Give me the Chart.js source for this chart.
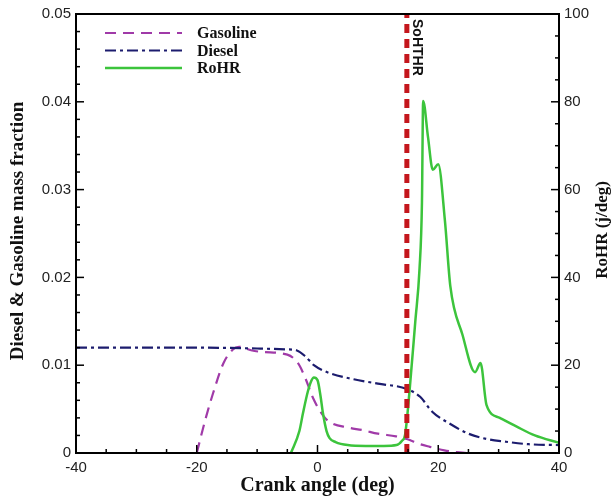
<!DOCTYPE html>
<html>
<head>
<meta charset="utf-8">
<script src="https://cdn.jsdelivr.net/npm/chart.js@4.4.0/dist/chart.umd.min.js"></script>
<style>
  body { margin: 0; background: #fff; }
  #box { width: 612px; height: 497px; }
</style>
</head>
<body>
<div id="box"><canvas id="chart"></canvas></div>
<script>
// values
const gasolineAngle = [-20, -18.5, -17.3, -15.6, -14, -13, -11, -9, -5, -3.2, -2, -0.7, 1, 2.1, 5, 7.5, 10, 13, 14.8, 17, 18.6, 21, 23, 25, 40];
const gasoline      = [0, 0.0040, 0.0068, 0.0102, 0.0118, 0.0121, 0.0117, 0.0115, 0.0112, 0.0102, 0.0085, 0.0062, 0.0042, 0.0035, 0.0029, 0.0026, 0.0022, 0.0019, 0.0016, 0.0010, 0.0007, 0.0003, 0.0001, 0, 0];

const dieselAngle = [-40, -30, -20, -10, -5, -3.5, -2, -0.6, 2, 6, 10, 14.8, 17, 19, 22, 25, 28, 31, 35, 40];
const diesel      = [0.0120, 0.0120, 0.0120, 0.0119, 0.0118, 0.0117, 0.0110, 0.0100, 0.0091, 0.0084, 0.0079, 0.0073, 0.0064, 0.0047, 0.0033, 0.0022, 0.0016, 0.0013, 0.0010, 0.0009];

const rohrAngle = [-4.4, -3, -2.4, -1.6, -1, -0.6, 0, 0.5, 0.9, 1.5, 2, 3, 5, 8, 11, 13.1, 14, 14.5, 15.3, 16.2, 16.9, 17.3, 17.5, 18.3, 19.1, 20, 21.1, 22, 24, 26.1, 27, 28, 30.2, 33, 36, 40];
const rohr      = [0, 5, 9.1, 14, 16.5, 17.2, 16.6, 13, 9.1, 5, 3.4, 2.5, 1.8, 1.6, 1.6, 1.8, 2.8, 4.1, 15, 30, 42, 57, 80.2, 72, 64.5, 65.8, 53, 38, 27, 18.4, 20.5, 10.9, 8, 6, 4, 2.3];

const sohthrAngle = 14.8;

function pts(xs, ys) {
  return xs.map((x, i) => ({ x: x, y: ys[i] }));
}

const tickFont = { family: 'Liberation Sans', size: 15 };

const decor = {
  id: 'decor',
  afterDatasetsDraw(chart) {
    const ctx = chart.ctx, a = chart.chartArea;
    const sx = chart.scales.x, sy = chart.scales.y, sy2 = chart.scales.y2;
    ctx.save();
    ctx.strokeStyle = '#000';
    ctx.lineWidth = 1.5;
    function seg(x1, y1, x2, y2) {
      ctx.beginPath(); ctx.moveTo(x1, y1); ctx.lineTo(x2, y2); ctx.stroke();
    }
    // inward ticks
    for (let i = 0; i <= 16; i++) {
      const px = sx.getPixelForValue(-40 + i * 5);
      seg(px, a.bottom, px, a.bottom - (i % 4 === 0 ? 8 : 4));
    }
    for (let i = 0; i <= 25; i++) {
      const py = sy.getPixelForValue(i * 0.002);
      seg(a.left, py, a.left + (i % 5 === 0 ? 8 : 4), py);
    }
    for (let i = 0; i <= 20; i++) {
      const py = sy2.getPixelForValue(i * 5);
      seg(a.right, py, a.right - (i % 4 === 0 ? 8 : 4), py);
    }
    ctx.lineWidth = 2;
    ctx.strokeRect(a.left, a.top, a.right - a.left, a.bottom - a.top);

    // legend
    ctx.font = 'bold 16px "Liberation Serif"';
    ctx.textBaseline = 'middle';
    ctx.fillStyle = '#111';
    let row = 0;
    chart.data.datasets.forEach(ds => {
      if (ds.noLegend) return;
      const yy = 33 + row * 17.5;
      ctx.strokeStyle = ds.borderColor;
      ctx.lineWidth = ds.borderWidth;
      ctx.setLineDash(ds.borderDash || []);
      seg(105, yy, 182, yy);
      ctx.setLineDash([]);
      ctx.fillText(ds.label, 197, yy + 1);
      row++;
    });

    // SoHTHR label
    const lx = sx.getPixelForValue(sohthrAngle);
    ctx.save();
    ctx.translate(lx + 10, a.top + 5);
    ctx.rotate(Math.PI / 2);
    ctx.font = 'bold 14px "Liberation Sans"';
    ctx.textAlign = 'left';
    ctx.fillStyle = '#111';
    ctx.fillText('SoHTHR', 0, 0);
    ctx.restore();

    // axis titles
    ctx.font = 'bold 20px "Liberation Serif"';
    ctx.textAlign = 'center';
    ctx.fillText('Crank angle (deg)', (a.left + a.right) / 2, 486);
    ctx.font = 'bold 19px "Liberation Serif"';
    ctx.save();
    ctx.translate(18, 231);
    ctx.rotate(-Math.PI / 2);
    ctx.fillText('Diesel & Gasoline mass fraction', 0, 0);
    ctx.restore();
    ctx.font = 'bold 17px "Liberation Serif"';
    ctx.save();
    ctx.translate(603, 230);
    ctx.rotate(-Math.PI / 2);
    ctx.fillText('RoHR (j/deg)', 0, 0);
    ctx.restore();
    ctx.restore();
  }
};

new Chart(document.getElementById('chart'), {
  type: 'line',
  data: {
    datasets: [
      {
        label: 'SoHTHR', noLegend: true,
        data: [{ x: sohthrAngle, y: 0 }, { x: sohthrAngle, y: 100 }],
        yAxisID: 'y2', borderColor: '#c4161c', borderWidth: 5,
        borderDash: [9, 6], pointRadius: 0, order: 0
      },
      {
        label: 'Gasoline',
        data: pts(gasolineAngle, gasoline),
        yAxisID: 'y', borderColor: '#a03aa8', borderWidth: 2.2,
        borderDash: [11, 7], pointRadius: 0, cubicInterpolationMode: 'monotone', order: 3
      },
      {
        label: 'Diesel',
        data: pts(dieselAngle, diesel),
        yAxisID: 'y', borderColor: '#1c1c6e', borderWidth: 2.2,
        borderDash: [11, 4, 3, 4], pointRadius: 0, cubicInterpolationMode: 'monotone', order: 2
      },
      {
        label: 'RoHR',
        data: pts(rohrAngle, rohr),
        yAxisID: 'y2', borderColor: '#3cc43c', borderWidth: 2.5,
        pointRadius: 0, cubicInterpolationMode: 'monotone', order: 1
      }
    ]
  },
  options: {
    responsive: true,
    maintainAspectRatio: false,
    animation: false,
    layout: { padding: { top: 14, left: 0, right: 0, bottom: 0 } },
    plugins: { legend: { display: false }, tooltip: { enabled: false } },
    scales: {
      x: {
        type: 'linear', min: -40, max: 40,
        grid: { display: false, drawTicks: false },
        border: { display: false },
        ticks: { stepSize: 20, font: tickFont, color: '#222', padding: 6, maxRotation: 0 },
        afterFit: s => { s.height = 44; }
      },
      y: {
        position: 'left', min: 0, max: 0.05,
        grid: { display: false, drawTicks: false },
        border: { display: false },
        ticks: {
          stepSize: 0.01, font: tickFont, color: '#222', padding: 5,
          callback: v => (v === 0 ? '0' : v.toFixed(2))
        },
        afterFit: s => { s.width = 76; }
      },
      y2: {
        position: 'right', min: 0, max: 100,
        grid: { display: false, drawTicks: false },
        border: { display: false },
        ticks: { stepSize: 20, font: tickFont, color: '#222', padding: 5 },
        afterFit: s => { s.width = 53; }
      }
    }
  },
  plugins: [decor]
});
</script>
</body>
</html>
